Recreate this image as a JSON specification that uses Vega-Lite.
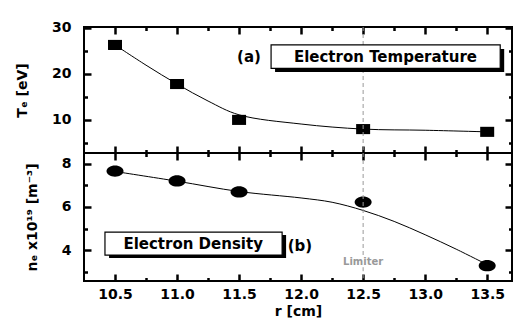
{
  "$schema": "https://vega.github.io/schema/vega-lite/v6.json",
  "background": "white",
  "padding": {"left": 14, "top": 19, "right": 2, "bottom": 2},
  "spacing": 0,
  "bounds": "flush",
  "config": {
    "view": {"stroke": "black", "strokeWidth": 2},
    "concat": {"spacing": 0},
    "axis": {
      "grid": false, "domain": false,
      "labelFont": "DejaVu Sans", "labelFontWeight": "bold", "labelFontSize": 14, "labelColor": "black",
      "titleFont": "DejaVu Sans", "titleFontWeight": "bold", "titleFontSize": 14, "titleColor": "black",
      "minExtent": 0
    },
    "text": {"font": "DejaVu Sans", "fontWeight": "bold"}
  },
  "datasets": {
    "te": [
      {"r": 10.5, "te": 26.3}, {"r": 11.0, "te": 17.8}, {"r": 11.5, "te": 10.0},
      {"r": 12.5, "te": 8.0}, {"r": 13.5, "te": 7.4}
    ],
    "tefit": [
      {"r": 10.5, "te": 26.3}, {"r": 10.75, "te": 21.9}, {"r": 11.0, "te": 17.8},
      {"r": 11.25, "te": 14.1}, {"r": 11.5, "te": 11.1}, {"r": 12.0, "te": 9.1},
      {"r": 12.5, "te": 8.0}, {"r": 13.0, "te": 7.75}, {"r": 13.5, "te": 7.4}
    ],
    "ne": [
      {"r": 10.5, "ne": 7.67}, {"r": 11.0, "ne": 7.21}, {"r": 11.5, "ne": 6.7},
      {"r": 12.5, "ne": 6.23}, {"r": 13.5, "ne": 3.27}
    ],
    "nefit": [
      {"r": 10.5, "ne": 7.65}, {"r": 11.0, "ne": 7.2}, {"r": 11.5, "ne": 6.72},
      {"r": 12.0, "ne": 6.42}, {"r": 12.25, "ne": 6.22}, {"r": 12.5, "ne": 5.84},
      {"r": 12.75, "ne": 5.33}, {"r": 13.0, "ne": 4.71}, {"r": 13.25, "ne": 4.04},
      {"r": 13.5, "ne": 3.32}
    ]
  },
  "vconcat": [
    {
      "width": 428, "height": 126,
      "resolve": {"axis": {"x": "independent", "y": "independent"}},
      "layer": [
        {
          "data": {"name": "tefit"},
          "mark": {"type": "line", "interpolate": "catmull-rom", "color": "black", "strokeWidth": 1},
          "encoding": {
            "x": {"field": "r", "type": "quantitative", "scale": {"domain": [10.25, 13.7], "nice": false, "zero": false},
              "axis": {"orient": "bottom", "title": null, "labels": false, "tickSize": 7, "tickColor": "black", "tickWidth": 2.5, "offset": -7,
                "values": [10.5, 10.75, 11, 11.25, 11.5, 11.75, 12, 12.25, 12.5, 12.75, 13, 13.25, 13.5],
                "tickDash": {"condition": {"test": "(datum.value*2)%1===0", "value": []}, "value": [0, 3.5, 3.5]}}},
            "y": {"field": "te", "type": "quantitative", "scale": {"domain": [2.8, 30.2], "nice": false, "zero": false},
              "axis": {"orient": "left", "title": "Tₑ [eV]", "titlePadding": 22, "tickSize": 7, "tickColor": "black", "tickWidth": 2.5, "offset": -7, "labelPadding": 13,
                "values": [5, 10, 15, 20, 25, 30],
                "labelExpr": "datum.value % 10 === 0 ? datum.label : ''",
                "tickDash": {"condition": {"test": "datum.value % 10 === 0", "value": []}, "value": [0, 3.5, 3.5]}}}
          }
        },
        {
          "data": {"name": "te"},
          "mark": {"type": "point", "shape": "M-1,-0.72H1V0.72H-1Z", "filled": true, "color": "black", "opacity": 1, "size": 196},
          "encoding": {
            "x": {"field": "r", "type": "quantitative",
              "axis": {"orient": "top", "title": null, "labels": false, "tickSize": 7, "tickColor": "black", "tickWidth": 2.5, "offset": -7,
                "values": [10.5, 10.75, 11, 11.25, 11.5, 11.75, 12, 12.25, 12.5, 12.75, 13, 13.25, 13.5],
                "tickDash": {"condition": {"test": "(datum.value*2)%1===0", "value": []}, "value": [0, 3.5, 3.5]}}},
            "y": {"field": "te", "type": "quantitative",
              "axis": {"orient": "right", "title": null, "labels": false, "tickSize": 7, "tickColor": "black", "tickWidth": 2.5, "offset": -7,
                "values": [5, 10, 15, 20, 25, 30],
                "tickDash": {"condition": {"test": "datum.value % 10 === 0", "value": []}, "value": [0, 3.5, 3.5]}}}
          }
        },
        {
          "data": {"values": [{}]},
          "mark": {"type": "rule", "color": "#999999", "strokeDash": [4, 3], "strokeWidth": 1},
          "encoding": {"x": {"datum": 12.5, "type": "quantitative", "axis": null}}
        },
        {
          "data": {"values": [{}]},
          "mark": {"type": "rect", "fill": "black"},
          "encoding": {
            "x": {"datum": 11.79, "type": "quantitative", "axis": null}, "x2": {"datum": 13.637},
            "y": {"datum": 25.4, "type": "quantitative", "axis": null}, "y2": {"datum": 20.4}
          }
        },
        {
          "data": {"values": [{}]},
          "mark": {"type": "rect", "fill": "white", "stroke": "black", "strokeWidth": 1.2},
          "encoding": {
            "x": {"datum": 11.758, "type": "quantitative", "axis": null}, "x2": {"datum": 13.605},
            "y": {"datum": 26.3, "type": "quantitative", "axis": null}, "y2": {"datum": 21.2}
          }
        },
        {
          "data": {"values": [{}]},
          "mark": {"type": "text", "text": "Electron Temperature", "fontSize": 15, "align": "center", "baseline": "middle", "color": "black"},
          "encoding": {
            "x": {"datum": 12.68, "type": "quantitative", "axis": null},
            "y": {"datum": 23.75, "type": "quantitative", "axis": null}
          }
        },
        {
          "data": {"values": [{}]},
          "mark": {"type": "text", "text": "(a)", "fontSize": 15, "align": "center", "baseline": "middle", "color": "black"},
          "encoding": {
            "x": {"datum": 11.58, "type": "quantitative", "axis": null},
            "y": {"datum": 23.75, "type": "quantitative", "axis": null}
          }
        }
      ]
    },
    {
      "width": 428, "height": 128,
      "resolve": {"axis": {"x": "independent", "y": "independent"}},
      "layer": [
        {
          "data": {"name": "nefit"},
          "mark": {"type": "line", "interpolate": "catmull-rom", "color": "black", "strokeWidth": 1},
          "encoding": {
            "x": {"field": "r", "type": "quantitative", "scale": {"domain": [10.25, 13.7], "nice": false, "zero": false},
              "axis": {"orient": "bottom", "title": "r [cm]", "titlePadding": 3, "labelPadding": 6, "tickSize": 7, "tickColor": "black", "tickWidth": 2.5, "offset": -7,
                "values": [10.5, 10.75, 11, 11.25, 11.5, 11.75, 12, 12.25, 12.5, 12.75, 13, 13.25, 13.5],
                "labelExpr": "(datum.value*2)%1===0 ? format(datum.value, '.1f') : ''",
                "tickDash": {"condition": {"test": "(datum.value*2)%1===0", "value": []}, "value": [0, 3.5, 3.5]}}},
            "y": {"field": "ne", "type": "quantitative", "scale": {"domain": [2.56, 8.51], "nice": false, "zero": false},
              "axis": {"orient": "left", "title": "nₑ x10¹⁹ [m⁻³]", "titlePadding": 22, "tickSize": 7, "tickColor": "black", "tickWidth": 2.5, "offset": -7, "labelPadding": 13,
                "values": [3, 4, 5, 6, 7, 8],
                "labelExpr": "datum.value % 2 === 0 ? datum.label : ''",
                "tickDash": {"condition": {"test": "datum.value % 2 === 0", "value": []}, "value": [0, 3.5, 3.5]}}}
          }
        },
        {
          "data": {"name": "ne"},
          "mark": {"type": "point", "shape": "M-1,0A1,0.66,0,1,1,1,0A1,0.66,0,1,1,-1,0Z", "filled": true, "color": "black", "opacity": 1, "size": 289},
          "encoding": {
            "x": {"field": "r", "type": "quantitative",
              "axis": {"orient": "top", "title": null, "labels": false, "tickSize": 7, "tickColor": "black", "tickWidth": 2.5, "offset": -7,
                "values": [10.5, 10.75, 11, 11.25, 11.5, 11.75, 12, 12.25, 12.5, 12.75, 13, 13.25, 13.5],
                "tickDash": {"condition": {"test": "(datum.value*2)%1===0", "value": []}, "value": [0, 3.5, 3.5]}}},
            "y": {"field": "ne", "type": "quantitative",
              "axis": {"orient": "right", "title": null, "labels": false, "tickSize": 7, "tickColor": "black", "tickWidth": 2.5, "offset": -7,
                "values": [3, 4, 5, 6, 7, 8],
                "tickDash": {"condition": {"test": "datum.value % 2 === 0", "value": []}, "value": [0, 3.5, 3.5]}}}
          }
        },
        {
          "data": {"values": [{}]},
          "mark": {"type": "rule", "color": "#999999", "strokeDash": [4, 3], "strokeWidth": 1},
          "encoding": {
            "x": {"datum": 12.5, "type": "quantitative", "axis": null},
            "y": {"datum": 8.51, "type": "quantitative", "axis": null}, "y2": {"datum": 3.65}
          }
        },
        {
          "data": {"values": [{}]},
          "mark": {"type": "rule", "color": "#999999", "strokeDash": [4, 3], "strokeWidth": 1},
          "encoding": {
            "x": {"datum": 12.5, "type": "quantitative", "axis": null},
            "y": {"datum": 3.2, "type": "quantitative", "axis": null}, "y2": {"datum": 2.56}
          }
        },
        {
          "data": {"values": [{}]},
          "mark": {"type": "text", "text": "Limiter", "fontSize": 10, "align": "center", "baseline": "middle", "color": "#999999"},
          "encoding": {
            "x": {"datum": 12.5, "type": "quantitative", "axis": null},
            "y": {"datum": 3.44, "type": "quantitative", "axis": null}
          }
        },
        {
          "data": {"values": [{}]},
          "mark": {"type": "rect", "fill": "black"},
          "encoding": {
            "x": {"datum": 10.452, "type": "quantitative", "axis": null}, "x2": {"datum": 11.879},
            "y": {"datum": 4.70, "type": "quantitative", "axis": null}, "y2": {"datum": 3.63}
          }
        },
        {
          "data": {"values": [{}]},
          "mark": {"type": "rect", "fill": "white", "stroke": "black", "strokeWidth": 1.2},
          "encoding": {
            "x": {"datum": 10.419, "type": "quantitative", "axis": null}, "x2": {"datum": 11.847},
            "y": {"datum": 4.836, "type": "quantitative", "axis": null}, "y2": {"datum": 3.766}
          }
        },
        {
          "data": {"values": [{}]},
          "mark": {"type": "text", "text": "Electron Density", "fontSize": 15, "align": "center", "baseline": "middle", "color": "black"},
          "encoding": {
            "x": {"datum": 11.13, "type": "quantitative", "axis": null},
            "y": {"datum": 4.30, "type": "quantitative", "axis": null}
          }
        },
        {
          "data": {"values": [{}]},
          "mark": {"type": "text", "text": "(b)", "fontSize": 15, "align": "center", "baseline": "middle", "color": "black"},
          "encoding": {
            "x": {"datum": 11.99, "type": "quantitative", "axis": null},
            "y": {"datum": 4.2, "type": "quantitative", "axis": null}
          }
        }
      ]
    }
  ]
}
